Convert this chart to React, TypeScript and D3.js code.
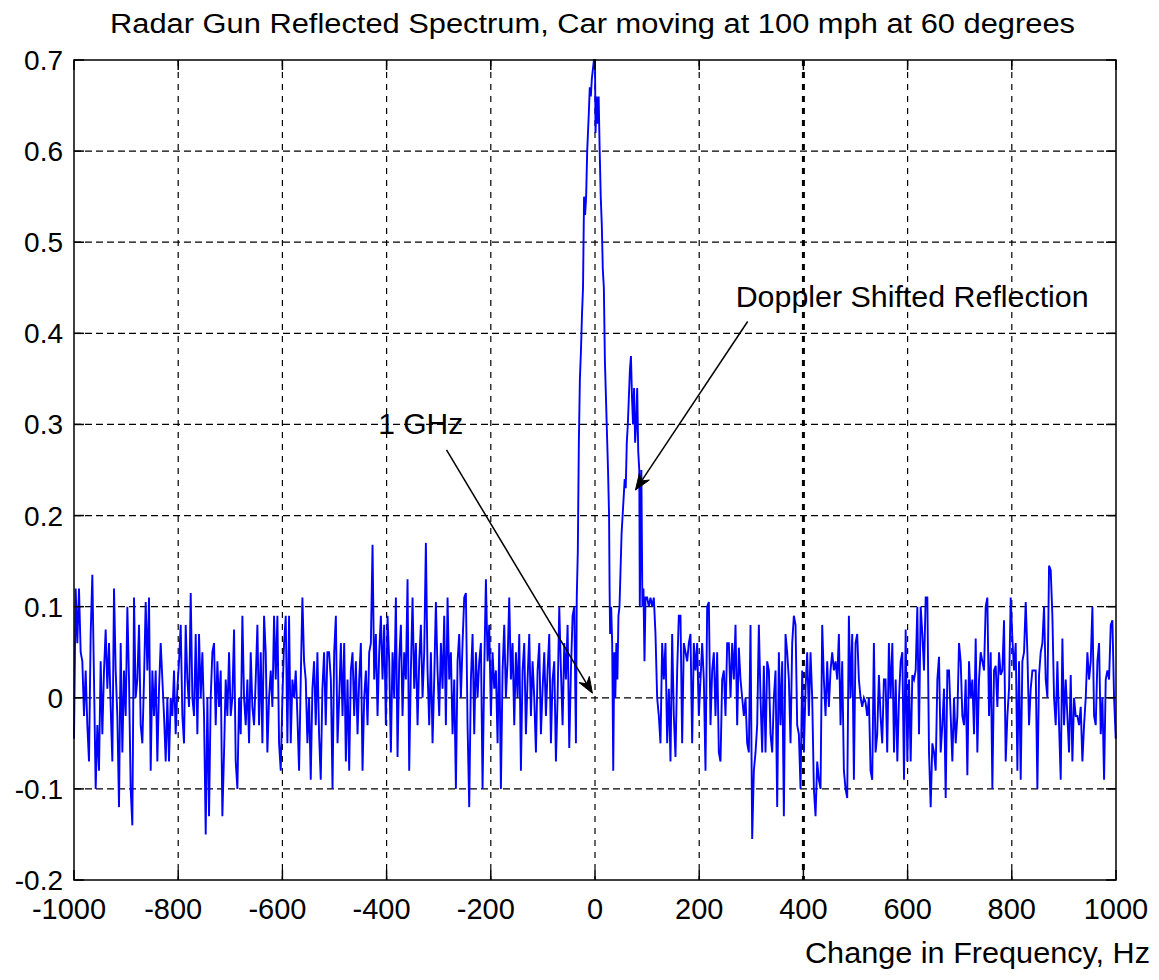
import React from "react";
import * as d3 from "d3";

// ---------- DATA ----------
const TITLE = "Radar Gun Reflected Spectrum, Car moving at 100 mph at 60 degrees";
const X_LABEL = "Change in Frequency, Hz";
const X_TICKS = [-1000, -800, -600, -400, -200, 0, 200, 400, 600, 800, 1000];
const Y_TICKS = [-0.2, -0.1, 0, 0.1, 0.2, 0.3, 0.4, 0.5, 0.6, 0.7];
const BIN_HZ = 3.2;

// noise, -1000 Hz .. -510 Hz
const NOISE_A_START = -1000;
const NOISE_A = [
  -0.045, 0.12, 0.06, 0.12, 0.05, 0.04, -0.02, 0.03, -0.03, -0.07,
  0.07, 0.135, 0.02, -0.1, -0.03, -0.08, 0.04, -0.04, 0.03, 0.075,
  0.01, 0.06, -0.01, -0.07, 0.12, 0.03, -0.02, -0.12, 0.06, -0.06,
  0.03, -0.02, 0.1, 0.02, -0.1, -0.14, 0.11, 0.0, 0.02, 0.08,
  -0.03, -0.05, 0.02, 0.105, 0.03, 0.11, -0.08, 0.03, -0.02, 0.03,
  -0.07, 0.01, 0.06, 0.02, -0.02, -0.07, 0.0, -0.07, 0.0, -0.02,
  0.03, -0.04, 0.01, 0.04, 0.08, -0.02, -0.05, 0.08, 0.02, -0.01,
  0.115, 0.0, -0.02, 0.07, -0.04, 0.07, 0.0, 0.05, -0.02, -0.15,
  0.0, -0.13, 0.0, 0.05, 0.06, -0.03, 0.04, -0.01, 0.03, -0.13,
  -0.06, 0.02, -0.02, 0.05, -0.02, 0.0, 0.075, -0.07, -0.1, 0.0,
  -0.04, 0.09, 0.0, -0.03, 0.02, -0.05, 0.05, -0.01, -0.03, 0.02,
  0.08, -0.03, 0.05, -0.05, 0.09, 0.05, -0.06, 0.0, 0.03, -0.01,
  0.09, 0.02, 0.09, -0.05, -0.08, 0.0, 0.06, 0.09, -0.05, 0.09,
  -0.05, 0.02, 0.0, 0.03, -0.02, -0.08, 0.02, 0.11, 0.04, 0.02,
  -0.05, 0.0, -0.09, 0.01, 0.04, -0.03, 0.05, -0.04, -0.09, 0.01,
  0.05, -0.03, 0.05, 0.05,
];

// noise, -507 Hz .. -37 Hz
const NOISE_B_START = -507;
const NOISE_B = [
  0.02, -0.1, 0.05, 0.09, -0.05, 0.0, 0.06, -0.02, 0.06, -0.07,
  0.02, -0.08, 0.03, 0.05, -0.02, 0.04, -0.04, 0.02, 0.06, -0.08,
  0.0, 0.03, -0.03, 0.05, 0.06, 0.168, 0.02, 0.07, -0.02, 0.05,
  0.09, 0.02, 0.08, -0.03, 0.09, 0.04, -0.06, 0.05, 0.0, 0.11,
  -0.065, 0.04, 0.08, -0.02, 0.05, 0.02, 0.13, -0.08, 0.03, 0.11,
  0.01, 0.06, -0.03, 0.04, 0.08, 0.0, 0.05, 0.17, 0.03, -0.03,
  0.05, -0.05, 0.02, 0.105, 0.03, -0.02, 0.06, 0.01, 0.09, -0.03,
  0.11, 0.02, 0.05, -0.04, 0.02, -0.1, 0.04, 0.07, 0.0, 0.06,
  0.11, 0.115, -0.03, -0.12, 0.02, 0.07, -0.04, 0.05, 0.0, 0.04,
  0.06, -0.1, 0.03, 0.13, 0.04, 0.08, -0.02, 0.05, 0.01, 0.03,
  -0.05, 0.06, -0.1, 0.03, 0.08, 0.0, 0.04, 0.11, 0.02, 0.06,
  -0.03, 0.05, 0.0, 0.07, -0.08, 0.03, 0.06, -0.04, 0.02, 0.07,
  -0.02, 0.04, 0.0, -0.06, 0.03, 0.06, -0.04, 0.01, 0.05, -0.02,
  0.03, 0.07, -0.05, 0.02, 0.04, -0.07, 0.0, 0.1, 0.03, -0.03,
  0.06, 0.02, 0.08, -0.055, 0.03, 0.09, 0.1, -0.05,
];

// carrier + doppler peaks: [Hz, amplitude]
const PEAK: [number, number][] = [
  [-35, 0.11], [-33, 0.16], [-31, 0.28], [-29, 0.35], [-27, 0.38], [-25, 0.42],
  [-23, 0.45], [-21, 0.55], [-19, 0.53], [-17, 0.55], [-15, 0.6], [-12, 0.64],
  [-10, 0.67], [-8, 0.66], [-6, 0.68], [-4, 0.69], [-2, 0.7], [0, 0.7],
  [1, 0.62], [3, 0.66], [5, 0.63], [7, 0.66], [9, 0.6], [11, 0.55],
  [13, 0.52], [15, 0.47], [17, 0.45], [19, 0.37], [21, 0.33], [23, 0.29],
  [25, 0.25], [27, 0.2], [28, 0.12], [29, 0.07], [31, 0.1], [33, 0.06],
  [35, -0.08], [37, 0.05], [39, 0.0], [41, 0.06], [43, 0.02], [45, 0.09],
  [47, 0.1], [49, 0.14], [51, 0.18], [53, 0.2], [55, 0.22], [57, 0.24],
  [59, 0.23], [61, 0.28], [63, 0.3], [65, 0.33], [67, 0.36], [69, 0.375],
  [71, 0.33], [73, 0.3], [75, 0.34], [77, 0.28], [79, 0.3], [81, 0.34],
  [83, 0.27], [85, 0.25], [86, 0.1], [88, 0.2], [89, 0.25], [91, 0.1],
  [93, 0.12], [95, 0.04], [97, 0.11],
];

// noise, 100 Hz .. 567 Hz
const NOISE_C_START = 100.1;
const NOISE_C = [
  0.11, 0.1, 0.11, 0.1, 0.11, 0.07, 0.0, -0.02, -0.05, 0.06,
  0.02, 0.06, -0.05, 0.01, -0.07, 0.07, -0.02, -0.065, 0.03, 0.09,
  0.09, -0.05, 0.06, 0.05, 0.04, 0.06, 0.07, -0.05, 0.06, 0.03,
  0.06, -0.02, 0.02, 0.06, 0.02, -0.08, 0.1, 0.105, -0.03, 0.03,
  0.05, -0.02, 0.05, -0.06, -0.07, 0.02, 0.03, -0.02, 0.06, 0.06,
  0.0, 0.06, 0.02, 0.08, -0.03, 0.055, 0.02, 0.0, -0.02, 0.0,
  -0.05, -0.06, 0.08, -0.155, -0.08, -0.06, -0.03, 0.08, 0.0, -0.06,
  0.035, -0.06, 0.04, 0.03, -0.04, -0.06, 0.0, 0.03, -0.12, 0.05,
  -0.03, 0.04, -0.13, 0.07, 0.05, 0.02, -0.05, 0.06, 0.09, 0.08,
  -0.03, -0.04, -0.1, 0.03, -0.06, 0.01, 0.05, -0.02, 0.05, 0.0,
  -0.1, -0.13, -0.07, -0.09, -0.1, 0.08, 0.02, -0.02, 0.04, -0.01,
  0.03, 0.05, 0.03, 0.04, 0.02, 0.07, -0.03, 0.04, -0.08, -0.1,
  -0.11, 0.09, 0.0, 0.07, -0.09, 0.06, 0.07, 0.02, 0.0, -0.01,
  0.0, -0.005, -0.02, 0.0, -0.08, -0.09, 0.06, -0.06, -0.04, 0.025,
  -0.02, -0.05, 0.02, 0.02, -0.06, 0.06, 0.0,
];

// noise, 571 Hz .. 1000 Hz
const NOISE_D_START = 570.7;
const NOISE_D = [
  0.06, -0.06, 0.02, -0.07, 0.0, 0.04, 0.05, -0.09, 0.075, -0.07,
  0.02, -0.07, 0.025, 0.02, 0.03, 0.1, -0.04, 0.1, 0.07, 0.03,
  0.11, 0.11, -0.06, -0.12, -0.05, -0.06, -0.08, 0.02, 0.045, -0.06,
  -0.03, 0.01, -0.11, 0.03, 0.03, -0.02, -0.07, 0.0, -0.05, -0.02,
  0.06, 0.04, -0.02, -0.03, 0.02, -0.085, 0.04, 0.0, 0.02, -0.04,
  0.065, -0.06, 0.02, 0.05, 0.04, 0.03, 0.1, 0.11, -0.02, 0.05,
  -0.1, 0.03, 0.035, -0.01, 0.05, 0.025, 0.03, 0.085, -0.07, -0.02,
  0.01, 0.11, 0.065, 0.03, 0.06, -0.08, 0.04, -0.09, 0.04, 0.05,
  0.105, 0.05, -0.03, 0.01, 0.03, 0.03, 0.03, -0.1, 0.025, 0.05,
  0.06, 0.1, 0.02, 0.0, 0.145, 0.14, 0.09, 0.0, -0.03, 0.04,
  -0.03, -0.09, 0.065, -0.03, 0.02, -0.02, -0.06, 0.025, -0.07, 0.0,
  -0.02, -0.02, -0.03, -0.01, -0.07, -0.03, 0.0, 0.05, 0.02, 0.04,
  0.1, -0.02, -0.03, 0.04, 0.06, -0.04, 0.0, -0.09, 0.02, 0.03,
  0.02, 0.08, 0.085, 0.0, -0.045,
];

// annotations (data coordinates)
const ANNOTATIONS = [
  { text: "Doppler Shifted Reflection", tx: 270, ty: 0.429, width: 353, from: [293, 0.413], to: [77.7, 0.228] },
  { text: "1 GHz", tx: -416, ty: 0.289, width: 85, from: [-285, 0.272], to: [-5, 0.005] },
];

// ---------- BUILD SERIES ----------
const series: [number, number][] = [
  ...NOISE_A.map((v, i) => [NOISE_A_START + i * BIN_HZ, v] as [number, number]),
  ...NOISE_B.map((v, i) => [NOISE_B_START + i * BIN_HZ, v] as [number, number]),
  ...PEAK,
  ...NOISE_C.map((v, i) => [NOISE_C_START + i * BIN_HZ, v] as [number, number]),
  ...NOISE_D.map((v, i) => [NOISE_D_START + i * BIN_HZ, v] as [number, number]),
];

const W = 1159;
const H = 980;
const L = 74, R = 1116, T = 60, B = 880;
const FONT = "'Liberation Sans', Arial, Helvetica, sans-serif";

function Arrow({ x1, y1, x2, y2 }: { x1: number; y1: number; x2: number; y2: number }) {
  const ang = Math.atan2(y2 - y1, x2 - x1);
  const len = 16, half = 6, notch = 5;
  const ux = Math.cos(ang), uy = Math.sin(ang);
  const px = -uy, py = ux;
  const bx = x2 - ux * len, by = y2 - uy * len;
  const nx = x2 - ux * (len - notch), ny = y2 - uy * (len - notch);
  const d = `M${x2},${y2} L${bx + px * half},${by + py * half} L${nx},${ny} L${bx - px * half},${by - py * half} Z`;
  return (
    <g>
      <line x1={x1} y1={y1} x2={nx} y2={ny} stroke="#000" strokeWidth={1.5} />
      <path d={d} fill="#000" stroke="#000" strokeWidth={1} />
    </g>
  );
}

export default function App() {
  const x = d3.scaleLinear().domain([-1000, 1000]).range([L, R]);
  const y = d3.scaleLinear().domain([-0.2, 0.7]).range([B, T]);
  const line = d3.line<[number, number]>().x((d) => x(d[0])).y((d) => y(d[1]));
  const fmtY = (v: number) => (Math.abs(v) < 1e-9 ? "0" : v.toFixed(1));

  return (
    <svg width={W} height={H} style={{ position: "absolute", left: 0, top: 0, background: "#fff" }} fontFamily={FONT}>
      <rect x={0} y={0} width={W} height={H} fill="#fff" />
      {/* grid */}
      {X_TICKS.slice(1, -1).map((t) => (
        <line key={"gx" + t} x1={x(t)} x2={x(t)} y1={T} y2={B} stroke="#000"
          strokeWidth={t === 400 ? 3 : 1.2} strokeDasharray="6 6" />
      ))}
      {Y_TICKS.slice(1, -1).map((t) => (
        <line key={"gy" + t} x1={L} x2={R} y1={y(t)} y2={y(t)} stroke="#000" strokeWidth={1.2} strokeDasharray="7 4" />
      ))}
      {/* data */}
      <path d={line(series) || ""} fill="none" stroke="#0000ff" strokeWidth={1.9} strokeLinejoin="miter" />
      {/* box */}
      <rect x={L} y={T} width={R - L} height={B - T} fill="none" stroke="#000" strokeWidth={1.5} />
      {/* ticks */}
      {X_TICKS.map((t) => (
        <g key={"tx" + t}>
          <line x1={x(t)} x2={x(t)} y1={B} y2={B - 10} stroke="#000" strokeWidth={1.5} />
          <line x1={x(t)} x2={x(t)} y1={T} y2={T + 10} stroke="#000" strokeWidth={1.5} />
          <text x={x(t) + (t < 0 ? -5 : 0)} y={919} textAnchor="middle" fontSize={29} fill="#000">{t}</text>
        </g>
      ))}
      {Y_TICKS.map((t) => (
        <g key={"ty" + t}>
          <line x1={L} x2={L + 10} y1={y(t)} y2={y(t)} stroke="#000" strokeWidth={1.5} />
          <line x1={R} x2={R - 10} y1={y(t)} y2={y(t)} stroke="#000" strokeWidth={1.5} />
          <text x={63} y={y(t) + 10} textAnchor="end" fontSize={28} fill="#000">{fmtY(t)}</text>
        </g>
      ))}
      {/* title & label */}
      <text x={110} y={33} fontSize={27} fill="#000" textLength={965} lengthAdjust="spacingAndGlyphs">{TITLE}</text>
      <text x={805} y={963} fontSize={30} fill="#000" textLength={345} lengthAdjust="spacingAndGlyphs">{X_LABEL}</text>
      {/* annotations */}
      {ANNOTATIONS.map((a) => (
        <g key={a.text}>
          <text x={x(a.tx)} y={y(a.ty)} fontSize={30} fill="#000" textLength={a.width} lengthAdjust="spacingAndGlyphs">{a.text}</text>
          <Arrow x1={x(a.from[0])} y1={y(a.from[1])} x2={x(a.to[0])} y2={y(a.to[1])} />
        </g>
      ))}
    </svg>
  );
}
